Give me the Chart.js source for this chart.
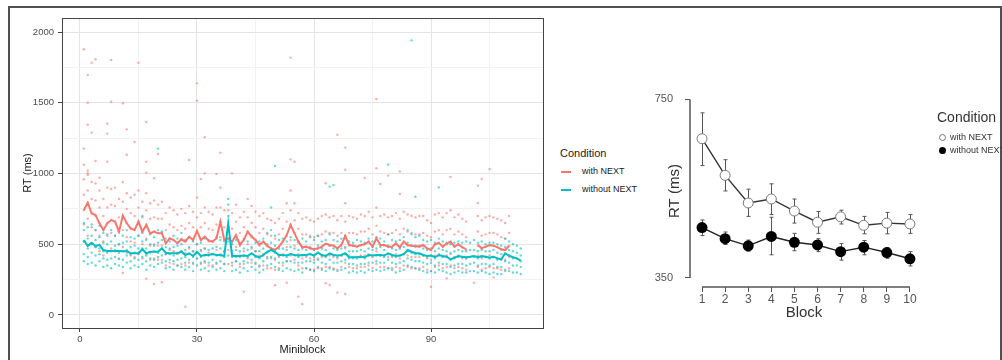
<!DOCTYPE html>
<html>
<head>
<meta charset="utf-8">
<script src="https://cdn.jsdelivr.net/npm/chart.js@4.4.1/dist/chart.umd.min.js"></script>
<style>
  html, body { margin: 0; padding: 0; background: #fff; }
  body { width: 1002px; height: 360px; position: relative; overflow: hidden; font-family: "Liberation Sans", Arial, sans-serif; }
  #frame { position: absolute; left: 8px; top: 6px; width: 994px; height: 400px; border: 2px solid #505050; box-sizing: border-box; }
  canvas { position: absolute; top: 0; }
  #left { left: 0; }
  #right { left: 640px; }
  .lbl { position: absolute; white-space: nowrap; }
  .sw { position: absolute; width: 10px; height: 2px; }
  .dot { position: absolute; width: 7px; height: 7px; border-radius: 50%; box-sizing: border-box; }
</style>
</head>
<body>
<div id="frame"></div>
<canvas id="left" width="554" height="360"></canvas>
<canvas id="right" width="362" height="360"></canvas>

<!-- legend, left panel -->
<div class="lbl" style="left:560px;top:147px;font-size:11px;color:#1a1a1a;">Condition</div>
<div class="sw" style="left:561px;top:171px;background:#F8766D;"></div>
<div class="lbl" style="left:582px;top:166px;font-size:9px;color:#1a1a1a;">with NEXT</div>
<div class="sw" style="left:561px;top:189px;background:#00BFC4;"></div>
<div class="lbl" style="left:582px;top:184px;font-size:9px;color:#1a1a1a;">without NEXT</div>

<!-- legend, right panel -->
<div class="lbl" style="left:937px;top:109px;font-size:14px;color:#333;">Condition</div>
<div class="dot" style="left:939px;top:134px;border:1px solid #777;background:#fff;"></div>
<div class="lbl" style="left:950px;top:132px;font-size:9px;color:#333;">with NEXT</div>
<div class="dot" style="left:939px;top:147px;background:#000;"></div>
<div class="lbl" style="left:950px;top:145px;font-size:9px;color:#333;">without NEXT</div>

<script>
// ---- LEFT PANEL: RT per miniblock ----
const withNextMean = [742,794,718,707,648,601,648,671,660,589, 702,648,612,601,660,589,636,577,589,577,
  577,507,542,530,507,535,518,554,530,594, 530,554,525,518,542,660,530,542,518,565,
  495,530,589,554,530,495,518,488,471,459, 483,518,565,636,577,518,478,483,471,464,
  471,483,505,495,490,471,495,558,495,490, 483,495,500,518,483,542,495,495,483,483,
  507,478,518,495,490,488,483,495,470,459, 500,510,483,505,518,483,500,478,465,null,
  null,495,471,483,495,490,478,465,459,488];

const withoutNextMean = [530,488,511,488,495,459,452,452,452,452, 450,452,436,436,436,465,436,447,447,447,
  471,440,436,436,436,447,424,436,417,447, 417,424,424,430,424,424,417,648,417,417,
  417,420,417,436,417,408,424,447,459,447, 424,424,420,430,424,420,424,424,430,420,
  440,424,417,436,424,420,424,436,408,408, 408,412,408,424,420,424,424,420,436,424,
  417,420,430,459,447,436,436,424,417,420, 408,424,417,412,393,405,417,412,408,412,
  417,408,417,412,405,412,400,393,436,420, 408,400,384];

// trials per miniblock (dense cloud), with NEXT
const withNextCloud = [
  [520,640,740,850,960],[560,680,790,880,990],[500,620,720,820,940],[480,600,700,810,930],[450,560,650,760,880],
  [420,520,600,700,820],[450,560,650,760,900],[470,580,670,780,890],[450,560,660,770,900],[400,500,590,690,820],
  [480,600,700,800,940],[440,550,650,750,860],[420,520,610,720,830],[410,510,600,700,850],[440,560,660,760,880],
  [400,500,590,690,800],[430,540,640,740,860],[390,490,580,680,790],[400,500,590,690,810],[390,490,580,680,780],
  [390,490,580,680,800],[350,430,510,600,720],[370,460,540,640,760],[360,450,530,620,740],[350,430,510,600,710],
  [360,450,540,630,750],[350,440,520,610,720],[370,470,550,650,770],[360,450,530,620,730],[400,500,590,690,830],
  [360,450,530,620,720],[370,470,550,650,760],[350,440,520,610,730],[350,430,520,600,710],[360,460,540,640,760],
  [430,550,660,760,900],[360,450,530,620,740],[360,460,540,630,740],[350,430,520,610,720],[380,480,560,660,780],
  [340,420,490,580,690],[360,450,530,620,730],[400,500,590,690,820],[370,470,550,650,770],[360,450,530,620,730],
  [340,420,490,580,700],[350,430,520,610,720],[330,410,490,570,680],[330,400,470,560,670],[320,390,460,540,650],
  [330,410,480,570,680],[350,430,520,610,720],[380,480,560,660,790],[420,530,640,740,880],[390,490,580,670,790],
  [350,430,520,610,720],[330,400,480,570,680],[330,410,480,570,690],[320,400,470,560,670],[320,390,460,550,660],
  [330,400,470,560,680],[330,410,480,570,700],[340,420,500,590,710],[340,420,490,580,690],[330,410,490,580,700],
  [320,400,470,560,670],[340,420,490,580,700],[370,470,560,660,790],[340,420,490,580,700],[330,410,490,580,690],
  [330,410,480,570,680],[340,420,490,590,710],[340,420,500,590,700],[350,430,520,610,730],[330,410,480,570,690],
  [360,450,540,630,760],[340,420,490,590,700],[340,420,490,580,710],[330,410,480,570,690],[330,410,480,580,700],
  [340,430,500,600,720],[330,400,480,570,680],[350,430,520,610,730],[340,420,490,590,710],[330,410,490,580,700],
  [330,410,490,570,690],[330,410,480,570,700],[340,420,490,580,700],[320,400,470,560,670],[310,390,460,550,650],
  [340,420,500,590,710],[350,430,510,600,720],[330,410,480,570,690],[340,420,500,600,720],[350,430,520,610,740],
  [330,410,480,570,690],[340,420,500,590,710],[330,400,480,570,680],[320,400,460,550,660],null,
  null,[340,420,490,590,700],[320,400,470,560,670],[330,410,480,570,690],[340,420,490,580,700],
  [330,410,490,580,690],[330,400,480,570,680],[320,400,460,550,670],[310,390,460,540,650],[330,410,490,580,700]
];

// trials per miniblock (dense cloud), without NEXT
const withoutNextCloud = [
  [380,430,520,600,650],[360,410,470,540,620],[370,440,500,560,640],[350,420,480,530,600],[380,430,470,550,630],
  [340,400,450,510,580],[350,390,440,500,570],[330,400,450,520,600],[360,410,460,490,560],[350,395,440,500,590],
  [340,390,450,510,560],[370,420,460,520,600],[330,380,430,480,550],[350,400,440,490,540],[340,390,430,470,560],
  [360,410,470,520,580],[320,380,420,470,530],[350,400,440,500,570],[340,390,450,490,550],[360,410,440,510,600],
  [370,420,470,530,590],[330,380,430,480,540],[340,390,430,470,520],[320,380,420,480,560],[350,390,440,490,540],
  [340,400,450,500,580],[320,370,410,460,530],[340,390,430,480,550],[310,370,410,450,520],[350,400,440,500,590],
  [320,370,410,460,510],[330,380,420,470,540],[310,370,420,460,530],[340,390,430,470,520],[320,370,420,480,550],
  [330,380,420,470,530],[310,360,410,450,520],[420,520,620,700,780],[310,370,410,450,500],[320,380,410,460,530],
  [300,360,410,450,510],[330,380,420,470,540],[310,370,410,460,520],[340,390,430,480,560],[320,370,410,450,510],
  [300,350,400,450,520],[320,380,420,470,540],[350,400,440,500,580],[360,410,460,510,600],[340,400,440,490,560],
  [320,370,420,470,530],[310,370,420,470,540],[330,380,410,460,520],[320,380,430,480,550],[310,370,420,470,530],
  [320,370,410,460,510],[300,370,420,470,540],[330,380,420,460,520],[320,380,430,480,550],[310,370,410,460,530],
  [340,390,440,490,560],[320,370,420,470,520],[310,360,410,460,530],[330,390,430,490,570],[320,370,420,470,530],
  [310,370,410,460,520],[320,380,420,470,540],[330,390,430,480,560],[300,360,400,450,520],[310,360,400,450,510],
  [300,350,400,450,530],[310,360,410,460,520],[300,360,400,450,510],[320,370,420,470,540],[310,370,420,460,520],
  [320,380,420,470,550],[310,370,420,480,540],[320,370,410,460,520],[330,390,430,490,570],[320,370,420,470,530],
  [300,360,410,460,520],[310,370,420,470,530],[320,380,430,480,550],[350,400,450,510,600],[340,390,440,490,570],
  [330,380,430,480,550],[320,380,430,490,560],[310,370,420,470,530],[300,360,410,460,520],[310,370,420,470,530],
  [300,350,400,450,510],[320,370,420,470,540],[310,360,410,460,520],[300,360,410,450,510],[290,340,390,440,500],
  [300,350,400,450,510],[310,360,410,460,520],[300,360,410,450,510],[300,350,400,450,520],[310,360,410,460,510],
  [310,370,410,460,530],[300,350,400,450,510],[310,360,410,460,520],[300,360,410,450,500],[290,350,400,450,510],
  [300,360,410,460,510],[290,340,390,440,500],[290,340,390,430,490],[320,380,430,480,540],[310,370,420,460,520],
  [300,350,400,450,500],[300,350,400,440,490],[290,340,380,420,470]
];

// isolated trials [miniblock, RT]
const withNextOutliers = [[1,1878],[3,1783],[4,1807],[8,1802],[15,1783],[2,1696],[2,1500],[8,1507],[11,1496],
  [2,1345],[7,1352],[3,1289],[7,1282],[12,1312],[17,1364],[14,1223],[1,1176],[12,1133],[20,1138],[4,1088],
  [7,1083],[17,1083],[1,1062],[2,1020],[2,1001],[17,1006],[5,970],[19,966],[28,1095],[30,1637],[30,1515],
  [32,1256],[36,1147],[32,1001],[35,997],[39,1001],[31,961],[54,1819],[54,1100],[55,1083],[66,1274],[76,1527],
  [68,1183],[68,1027],[76,1037],[79,985],[82,1015],[73,968],[95,975],[105,1032],[103,961],[63,931],[77,926],
  [82,855],[102,914],[102,791],[27,59],[42,165],[56,130],[57,78],[17,257],[19,219],[21,231],[11,297],[50,210],
  [53,228],[63,224],[64,212],[66,158],[68,148],[90,200],[101,228],[94,259],[106,266]];
const withoutNextOutliers = [[20,1176],[50,1053],[85,1941],[79,1062],[64,907],[65,918],[86,836],[92,902],
  [38,820],[16,700],[49,760]];

const leftXTicks = [0, 15, 30, 45, 60, 75, 90, 105];
const leftXMajor = [0, 30, 60, 90];
const leftYTicks = [0, 250, 500, 750, 1000, 1250, 1500, 1750, 2000];
const leftYMajor = [0, 500, 1000, 1500, 2000];

// ---- RIGHT PANEL: RT per block ----
const blocks = [1, 2, 3, 4, 5, 6, 7, 8, 9, 10];
const withNextBlock = [662, 580, 518, 527, 500, 475, 487, 468, 473, 471];
const withNextHi = [720, 615, 549, 561, 527, 499, 502, 488, 497, 492];
const withNextLo = [602, 545, 488, 492, 473, 450, 471, 449, 449, 450];
const withoutNextBlock = [463, 438, 422, 443, 430, 424, 409, 419, 407, 393];
const withoutNextHi = [480, 453, 435, 486, 450, 438, 427, 434, 418, 409];
const withoutNextLo = [445, 425, 410, 402, 411, 409, 390, 402, 394, 377];
const rightYTicks = [350, 750];

// build point lists
function meanLine(arr) {
    return arr.map((v, i) => ({ x: i + 1, y: v }));
}
function cloudPoints(rows, extra) {
    const pts = [];
    rows.forEach((vals, i) => {
        if (!vals) return;
        vals.forEach(v => pts.push({ x: i + 1, y: v }));
    });
    extra.forEach(p => pts.push({ x: p[0], y: p[1] }));
    return pts;
}

const panelBorder = {
    id: 'panelBorder',
    afterDraw(chart) {
        const a = chart.chartArea, ctx = chart.ctx;
        ctx.save();
        ctx.strokeStyle = '#444';
        ctx.lineWidth = 1;
        ctx.strokeRect(Math.round(a.left) + 0.5, Math.round(a.top) + 0.5, Math.round(a.right - a.left), Math.round(a.bottom - a.top));
        ctx.restore();
    }
};

new Chart(document.getElementById('left'), {
    type: 'scatter',
    data: {
        datasets: [
            { label: 'without NEXT', data: meanLine(withoutNextMean), showLine: true, borderColor: '#00BFC4', borderWidth: 2, pointRadius: 0, order: 0 },
            { label: 'with NEXT', data: meanLine(withNextMean), showLine: true, spanGaps: false, borderColor: '#F8766D', borderWidth: 2, pointRadius: 0, order: 1 },
            { label: 'without NEXT trials', data: cloudPoints(withoutNextCloud, withoutNextOutliers), pointRadius: 1.2, borderWidth: 0, backgroundColor: 'rgba(0,191,196,0.6)', order: 2 },
            { label: 'with NEXT trials', data: cloudPoints(withNextCloud, withNextOutliers), pointRadius: 1.2, borderWidth: 0, backgroundColor: 'rgba(248,118,109,0.6)', order: 3 }
        ]
    },
    options: {
        responsive: false,
        animation: false,
        devicePixelRatio: 1,
        layout: { padding: { top: 18, right: 11, left: 0, bottom: 0 } },
        plugins: { legend: { display: false }, tooltip: { enabled: false } },
        scales: {
            x: {
                type: 'linear', min: -4.6, max: 118.7,
                afterBuildTicks: s => { s.ticks = leftXTicks.map(v => ({ value: v })); },
                afterFit: s => { s.height = 32; },
                ticks: { autoSkip: false, maxRotation: 0, padding: 2, color: '#4d4d4d', font: { size: 9.5 },
                         callback: v => leftXMajor.includes(v) ? String(v) : '' },
                grid: {
                    tickLength: 4,
                    color: c => (c.tick && leftXMajor.includes(c.tick.value)) ? '#e4e4e4' : '#f2f2f2',
                    tickColor: c => (c.tick && leftXMajor.includes(c.tick.value)) ? '#444' : 'rgba(0,0,0,0)'
                },
                border: { display: false },
                title: { display: true, text: 'Miniblock', color: '#1a1a1a', font: { size: 11 }, padding: { top: 0, bottom: 3 } }
            },
            y: {
                type: 'linear', min: -92, max: 2099,
                afterBuildTicks: s => { s.ticks = leftYTicks.map(v => ({ value: v })); },
                afterFit: s => { s.width = 62; },
                ticks: { autoSkip: false, padding: 4, color: '#4d4d4d', font: { size: 9.5 },
                         callback: v => leftYMajor.includes(v) ? String(v) : '' },
                grid: {
                    tickLength: 4,
                    color: c => (c.tick && leftYMajor.includes(c.tick.value)) ? '#e4e4e4' : '#f2f2f2',
                    tickColor: c => (c.tick && leftYMajor.includes(c.tick.value)) ? '#444' : 'rgba(0,0,0,0)'
                },
                border: { display: false },
                title: { display: true, text: 'RT (ms)', color: '#1a1a1a', font: { size: 11 }, padding: { top: 21, bottom: 0 } }
            }
        }
    },
    plugins: [panelBorder]
});

// error bars + detached axes for the right panel
const errorBars = {
    id: 'errorBars',
    beforeDatasetsDraw(chart) {
        const ctx = chart.ctx, xs = chart.scales.x, ys = chart.scales.y;
        ctx.save();
        ctx.strokeStyle = '#555';
        ctx.lineWidth = 1;
        [[withNextLo, withNextHi], [withoutNextLo, withoutNextHi]].forEach(([lo, hi]) => {
            blocks.forEach((b, i) => {
                const x = Math.round(xs.getPixelForValue(b)) + 0.5;
                const y1 = ys.getPixelForValue(lo[i]), y2 = ys.getPixelForValue(hi[i]);
                ctx.beginPath();
                ctx.moveTo(x, y1); ctx.lineTo(x, y2);
                ctx.moveTo(x - 2, y1); ctx.lineTo(x + 2, y1);
                ctx.moveTo(x - 2, y2); ctx.lineTo(x + 2, y2);
                ctx.stroke();
            });
        });
        ctx.restore();
    },
    afterDraw(chart) {
        const ctx = chart.ctx, xs = chart.scales.x, ys = chart.scales.y, a = chart.chartArea;
        ctx.save();
        ctx.strokeStyle = '#555';
        ctx.lineWidth = 1.5;
        ctx.beginPath();
        ctx.moveTo(a.left, ys.getPixelForValue(rightYTicks[1]));
        ctx.lineTo(a.left, ys.getPixelForValue(rightYTicks[0]));
        ctx.moveTo(xs.getPixelForValue(blocks[0]), a.bottom);
        ctx.lineTo(xs.getPixelForValue(blocks[blocks.length - 1]), a.bottom);
        ctx.stroke();
        ctx.restore();
    }
};

new Chart(document.getElementById('right'), {
    type: 'scatter',
    data: {
        datasets: [
            { label: 'with NEXT', data: blocks.map((b, i) => ({ x: b, y: withNextBlock[i] })), showLine: true,
              borderColor: '#333', borderWidth: 1.4, pointRadius: 5, pointBackgroundColor: '#fff',
              pointBorderColor: '#777', pointBorderWidth: 1, clip: false },
            { label: 'without NEXT', data: blocks.map((b, i) => ({ x: b, y: withoutNextBlock[i] })), showLine: true,
              borderColor: '#222', borderWidth: 1.4, pointRadius: 5.5, pointBackgroundColor: '#000',
              pointBorderColor: '#000', pointBorderWidth: 0, clip: false }
        ]
    },
    options: {
        responsive: false,
        animation: false,
        devicePixelRatio: 1,
        layout: { padding: { top: 95, right: 84, left: 0, bottom: 0 } },
        plugins: { legend: { display: false }, tooltip: { enabled: false } },
        scales: {
            x: {
                type: 'linear', min: 0.48, max: 10.35,
                afterBuildTicks: s => { s.ticks = blocks.map(v => ({ value: v })); },
                afterFit: s => { s.height = 73; },
                ticks: { autoSkip: false, maxRotation: 0, padding: 0, color: '#555', font: { size: 12 } },
                grid: { drawOnChartArea: false, tickLength: 5, tickColor: '#555' },
                border: { display: false },
                title: { display: true, text: 'Block', color: '#333', font: { size: 15 }, padding: { top: 0, bottom: 38 } }
            },
            y: {
                type: 'linear', min: 329.8, max: 760,
                afterBuildTicks: s => { s.ticks = rightYTicks.map(v => ({ value: v })); },
                afterFit: s => { s.width = 50; },
                ticks: { autoSkip: false, padding: 12, color: '#555', font: { size: 11 } },
                grid: { drawOnChartArea: false, tickLength: 5, tickColor: '#555' },
                border: { display: false },
                title: { display: true, text: 'RT (ms)', color: '#333', font: { size: 15 }, padding: { top: 26, bottom: 0 } }
            }
        }
    },
    plugins: [errorBars]
});
</script>
</body>
</html>
